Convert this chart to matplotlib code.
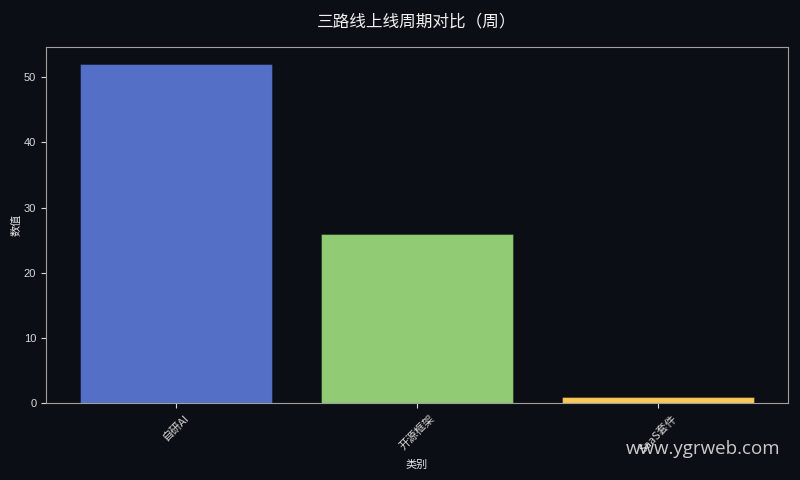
import matplotlib
matplotlib.use("Agg")
from matplotlib import pyplot as plt

plt.rcParams['font.family'] = ['Noto Sans CJK SC', 'DejaVu Sans']
plt.rcParams['axes.unicode_minus'] = False

categories = ["自研AI", "开源框架", "SaaS套件"]
values = [52, 26, 1]
colors = ["#5470c6", "#91cc75", "#fac858"]

bg = "#0b0e14"
fig, ax = plt.subplots(figsize=(8, 4.8), dpi=100)
fig.patch.set_facecolor(bg)
ax.set_facecolor(bg)

ax.bar(categories, values, color=colors, width=0.8,
       edgecolor=(0, 0, 0, 0.35), linewidth=0.8)

ax.set_title("三路线上线周期对比（周）", color="#f0f0f0", fontsize=12, pad=15)
ax.set_xlabel("类别", color="#e6e6e6", fontsize=8)
ax.set_ylabel("数值", color="#e6e6e6", fontsize=8, labelpad=2)
ax.tick_params(axis="x", colors="#d9d9d9", labelsize=8, labelrotation=45)
ax.tick_params(axis="y", colors="#d9d9d9", labelsize=8)
for lab in ax.get_yticklabels():
    lab.set_family("Liberation Sans")
for sp in ax.spines.values():
    sp.set_color("#a0a0a0")

fig.subplots_adjust(left=0.0575, right=0.985, top=0.902, bottom=0.16)

fig.text(0.975, 0.045, "www.ygrweb.com", color="#e0e0e0", alpha=0.9,
         fontsize=13.5, ha="right", va="bottom", family="Open Sans")

fig.savefig("out.png", facecolor=bg)
